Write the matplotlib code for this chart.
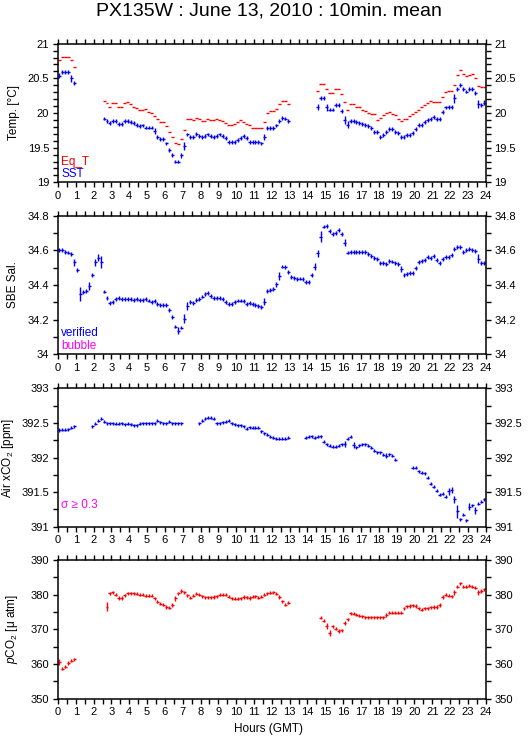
import numpy as np
import matplotlib
matplotlib.use('Agg')
import matplotlib.pyplot as plt
from matplotlib.ticker import MultipleLocator, FormatStrFormatter

plt.rcParams['font.family'] = ['Liberation Sans', 'DejaVu Sans']
plt.rcParams['mathtext.fontset'] = 'custom'
plt.rcParams['mathtext.rm'] = 'Liberation Sans'
plt.rcParams['mathtext.it'] = 'Liberation Sans:italic'

N = np.nan

# 10 minute bins over the day (bin centres, hours GMT)
hours = (np.arange(144) + 0.5) / 6.0

eq_t = [20.77, 20.81, 20.81, 20.81, 20.77, 20.66,
        N, N, N, N, N, N, N, N, N,
        20.18, 20.15, 20.09, 20.15, 20.15, 20.09, 20.09, 20.15, 20.16, 20.13, 20.09, 20.07, 20.05, 20.04, 20.06, 20.01,
        20.00, 19.96, 19.91, 19.87, 19.87, 19.81, 19.72, 19.65, 19.56, 19.55, 19.62, 19.75,
        19.92, 19.92, 19.90, 19.93, 19.91, 19.89, 19.89, 19.91, 19.90, 19.90,
        19.92, 19.90, 19.88, 19.86, 19.82, 19.82, 19.84, 19.87, 19.90, 19.87, 19.84, 19.82,
        19.79, 19.79, 19.79, 19.79, 19.87, 20.00, 20.03, 20.03, 20.06, 20.13, 20.18, 20.17, 20.13,
        N, N, N, N, N, N, N, N, N,
        20.32, 20.42, 20.42, 20.34, 20.29, 20.29, 20.34, 20.35, 20.27, 20.16, 20.05, 20.13, 20.13,
        20.09, 20.08, 20.05, 20.03, 20.00, 19.98, 19.98, 19.90, 19.93, 19.97, 20.00, 20.01, 19.98, 19.97,
        19.91, 19.88, 19.91, 19.91, 19.95, 19.99, 20.02, 20.05, 20.09, 20.12, 20.15, 20.18, 20.16, 20.16, 20.16,
        20.23, 20.31, 20.32, 20.32, 20.41, 20.55, 20.62, 20.56, 20.53, 20.55, 20.56, 20.50, 20.39, 20.37, 20.38]

sst = [20.54, 20.59, 20.59, 20.59, 20.50, 20.435,
       N, N, N, N, N, N, N, N, N,
       19.92, 19.88, 19.855, 19.89, 19.89, 19.845, 19.845, 19.89, 19.89, 19.87, 19.855, 19.83, 19.81, 19.82,
       19.79, 19.79, 19.79, 19.74, 19.65, 19.62, 19.62, 19.56, 19.47, 19.40, 19.30, 19.30, 19.39, 19.52,
       19.69, 19.66, 19.65, 19.70, 19.67, 19.66, 19.67, 19.69, 19.67, 19.65, 19.67, 19.69, 19.67, 19.64,
       19.58, 19.58, 19.58, 19.61, 19.64, 19.67, 19.64, 19.58, 19.58, 19.58, 19.58, 19.56, 19.65,
       19.78, 19.78, 19.78, 19.82, 19.89, 19.93, 19.92, 19.89,
       N, N, N, N, N, N, N, N, N,
       20.09, 20.21, 20.21, 20.08, 20.05, 20.05, 20.11, 20.11, 20.03, 19.90, 19.83, 19.89, 19.88, 19.865,
       19.855, 19.84, 19.83, 19.81, 19.78, 19.73, 19.73, 19.66, 19.68, 19.72, 19.77, 19.77, 19.73, 19.71,
       19.66, 19.65, 19.68, 19.68, 19.71, 19.77, 19.83, 19.83, 19.865, 19.90, 19.91, 19.94, 19.91, 19.91,
       20.01, 20.08, 20.09, 20.09, 20.21, 20.34, 20.41, 20.35, 20.31, 20.34, 20.34, 20.29, 20.13, 20.12, 20.15]
sst_err_big = {0: 0.04, 4: 0.05, 32: 0.04, 41: 0.04, 42: 0.06, 69: 0.04, 87: 0.04,
               90: 0.05, 96: 0.06, 97: 0.05, 133: 0.07, 141: 0.06, 143: 0.04}

sal = [34.600, 34.600, 34.590, 34.587, 34.577, 34.530, 34.486, 34.350, 34.360, 34.367,
       34.394, 34.458, 34.530, 34.556, 34.530, 34.362, 34.325, 34.294, 34.300, 34.317,
       34.323, 34.320, 34.317, 34.317, 34.320, 34.315, 34.317, 34.315, 34.315, 34.317,
       34.310, 34.304, 34.307, 34.288, 34.283, 34.283, 34.283, 34.254, 34.213, 34.160,
       34.135, 34.154, 34.206, 34.279, 34.300, 34.296, 34.315, 34.317, 34.333, 34.346,
       34.352, 34.335, 34.323, 34.323, 34.327, 34.320, 34.304, 34.292, 34.288, 34.300,
       34.310, 34.310, 34.306, 34.290, 34.294, 34.292, 34.283, 34.279, 34.271, 34.304,
       34.367, 34.371, 34.375, 34.404, 34.452, 34.506, 34.502, 34.477, 34.448, 34.438,
       34.435, 34.437, 34.433, 34.417, 34.417, 34.456, 34.506, 34.583, 34.679, 34.737,
       34.740, 34.710, 34.694, 34.698, 34.717, 34.692, 34.644, 34.587, 34.588, 34.588,
       34.590, 34.590, 34.590, 34.588, 34.579, 34.567, 34.556, 34.552, 34.527, 34.525,
       34.523, 34.537, 34.535, 34.529, 34.519, 34.492, 34.458, 34.463, 34.469, 34.469,
       34.496, 34.533, 34.538, 34.542, 34.563, 34.556, 34.567, 34.544, 34.525, 34.548,
       34.560, 34.563, 34.573, 34.606, 34.621, 34.621, 34.592, 34.602, 34.606, 34.602,
       34.598, 34.552, 34.529, 34.527]
sal_err_big = {5: 0.02, 7: 0.04, 10: 0.025, 12: 0.02, 13: 0.02, 14: 0.035, 40: 0.02,
               42: 0.025, 43: 0.025, 69: 0.02, 73: 0.015, 74: 0.025, 86: 0.02, 87: 0.02,
               88: 0.03, 96: 0.02, 115: 0.015, 141: 0.025}

air = [392.40, 392.40, 392.40, 392.41, 392.43, 392.45,
       N, N, N, N, N,
       392.45, 392.49, 392.53, 392.56, 392.52, 392.50, 392.50, 392.50, 392.49, 392.49,
       392.50, 392.48, 392.49, 392.48, 392.47, 392.47, 392.49, 392.50, 392.50, 392.50,
       392.50, 392.50, 392.53, 392.51, 392.50, 392.50, 392.52, 392.50, 392.50, 392.50, 392.50,
       N, N, N, N, N,
       392.50, 392.53, 392.56, 392.58, 392.58, 392.56, 392.50, 392.50, 392.51, 392.52,
       392.53, 392.50, 392.48, 392.47, 392.47, 392.45, 392.42, 392.44,
       392.435, 392.435, 392.43, 392.38, 392.35, 392.33, 392.30, 392.29, 392.27, 392.27, 392.27, 392.27, 392.29,
       N, N, N, N, N,
       392.29, 392.30, 392.31, 392.29, 392.30, 392.31, 392.23, 392.19, 392.17, 392.16,
       392.16, 392.17, 392.19, 392.20, 392.27, 392.30, 392.18, 392.15, 392.18, 392.19,
       392.19, 392.17, 392.145, 392.10, 392.08, 392.08, 392.04, 392.03, 392.05, 392.03, 391.97,
       N, N, N, N, N,
       391.85, 391.85, 391.80, 391.78, 391.77, 391.71, 391.62, 391.58, 391.52, 391.46,
       391.48, 391.43, 391.51, 391.53, 391.40, 391.22, 391.11, 391.17, 391.09, 391.29,
       391.31, 391.24, 391.33, 391.36, 391.40]
air_err_big = {0: 0.03, 96: 0.04, 99: 0.04, 110: 0.04, 131: 0.05, 132: 0.04,
               133: 0.05, 134: 0.09, 138: 0.05, 140: 0.05}

pco2 = [360.5, 358.7, 359.2, 360.3, 361.0, 361.3,
        N, N, N, N, N, N, N, N, N, N,
        376.5, 380.4, 380.6, 380.0, 379.0, 379.0, 379.8, 380.3, 380.3, 380.3,
        380.2, 379.9, 379.9, 379.6, 379.6, 379.7, 378.9, 377.9, 377.4, 377.1,
        376.4, 376.2, 377.0, 378.9, 380.3, 381.0, 380.7, 379.8, 379.1, 379.7,
        380.2, 379.9, 379.5, 379.2, 379.2, 379.2, 379.3, 379.5, 379.9, 380.0,
        380.0, 379.4, 378.9, 378.8, 378.8, 378.9, 379.3, 379.2, 379.0, 379.4,
        379.5, 379.1, 379.4, 380.0, 380.3, 380.5, 380.7, 380.2, 379.3, 378.0, 377.1, 377.7,
        N, N, N, N, N, N, N, N, N, N,
        373.3, 372.5, 371.0, 368.9, 370.9, 370.2, 369.5, 369.7, 371.9, 372.9,
        374.6, 374.5, 374.2, 373.9, 373.7, 373.4, 373.4, 373.5, 373.4, 373.4,
        373.4, 373.5, 374.1, 374.7, 374.7, 374.7, 374.7, 374.8, 376.0, 376.6,
        376.7, 376.9, 376.7, 376.0, 375.6, 376.0, 376.0, 376.3, 376.4, 376.4,
        376.9, 379.3, 379.9, 379.7, 379.5, 380.7, 382.2, 383.2, 382.3, 382.3,
        382.5, 382.3, 382.0, 380.6, 381.0, 381.5]
pco2_err_big = {0: 0.8, 16: 1.3, 39: 0.8, 90: 0.9, 91: 0.9, 96: 0.6, 128: 0.6, 133: 0.7, 141: 0.6}

RED = '#ff0000'
BLUE = '#0000ff'
MAGENTA = '#ff00ff'


def err_list(base, big):
    e = np.full(144, base)
    for k, v in big.items():
        e[k] = v
    return e


def draw(ax, vals, color, yerr=None):
    vals = np.asarray(vals, dtype=float)
    ok = ~np.isnan(vals)
    ye = None if yerr is None else yerr[ok]
    ax.errorbar(hours[ok], vals[ok], xerr=1 / 12, yerr=ye, fmt='none',
                ecolor=color, elinewidth=1.0, capsize=0)


def style(ax, ylim, major, minor, fmt, ylabel, labx):
    ax.set_xlim(0, 24)
    ax.set_ylim(*ylim)
    ax.xaxis.set_major_locator(MultipleLocator(1))
    ax.xaxis.set_minor_locator(MultipleLocator(0.5))
    ax.yaxis.set_major_locator(MultipleLocator(major))
    ax.yaxis.set_minor_locator(MultipleLocator(minor))
    ax.yaxis.set_major_formatter(FormatStrFormatter(fmt))
    ax.tick_params(which='both', direction='out', top=True, right=True,
                   labelright=True, labeltop=False, width=1.0, labelsize=8, pad=2.5)
    ax.tick_params(which='major', length=3.8)
    ax.tick_params(which='minor', length=3.4)
    for s in ax.spines.values():
        s.set_linewidth(1.1)
    ax.set_ylabel(ylabel, fontsize=8.5)
    ax.yaxis.set_label_coords(labx, 0.5)
    ax.yaxis.label.set_verticalalignment('center')


fig = plt.figure(figsize=(5.29, 7.39), dpi=100)
L, W = 0.1096, 0.8085
ax1 = fig.add_axes([L, 0.7533, W, 0.1876])
ax2 = fig.add_axes([L, 0.5206, W, 0.1876])
ax3 = fig.add_axes([L, 0.2873, W, 0.1870])
ax4 = fig.add_axes([L, 0.0545, W, 0.1880])

# Temperature panel
draw(ax1, eq_t, RED)
draw(ax1, sst, BLUE, err_list(0.028, sst_err_big))
style(ax1, (19, 21), 0.5, 0.1, '%g', 'Temp. [°C]', -0.103)
ax1.text(0.008, 0.125, 'Eq_T', color=RED, fontsize=8.5, transform=ax1.transAxes)
ax1.text(0.008, 0.038, 'SST', color=BLUE, fontsize=8.5, transform=ax1.transAxes)

# Salinity panel
draw(ax2, sal, BLUE, err_list(0.011, sal_err_big))
style(ax2, (34, 34.8), 0.2, 0.1, '%g', 'SBE Sal.', -0.104)
ax2.text(0.008, 0.13, 'verified', color=BLUE, fontsize=8.5, transform=ax2.transAxes)
ax2.text(0.008, 0.038, 'bubble', color=MAGENTA, fontsize=8.5, transform=ax2.transAxes)

# Air xCO2 panel
draw(ax3, air, BLUE, err_list(0.022, air_err_big))
style(ax3, (391, 393), 0.5, 0.25, '%g', 'Air xCO$_2$ [ppm]', -0.116)
ax3.text(0.008, 0.135, 'σ ≥ 0.3', color=MAGENTA, fontsize=8.5, transform=ax3.transAxes)

# pCO2 panel
draw(ax4, pco2, RED, err_list(0.45, pco2_err_big))
style(ax4, (350, 390), 10, 5, '%g', '$p$CO$_2$ [μ atm]', -0.108)

fig.text(0.5076, 1 - 10.5 / 739, 'PX135W : June 13, 2010 : 10min. mean',
         ha='center', va='center', fontsize=14)
fig.text(0.507, 1 - 729 / 739, 'Hours (GMT)', ha='center', va='center', fontsize=8.5)

fig.savefig('out.png', dpi=100, facecolor='white')
